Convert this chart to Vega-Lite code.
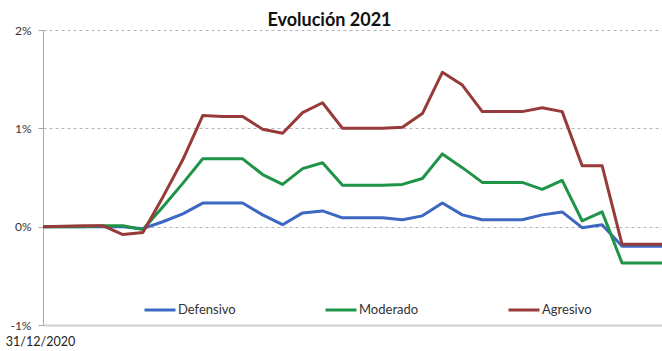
{
  "$schema": "https://vega.github.io/schema/vega-lite/v6.json",
  "width": 619,
  "height": 295,
  "autosize": {"type": "none"},
  "padding": {"left": 43, "top": 30, "right": 0, "bottom": 26},
  "background": "#ffffff",
  "title": {"text": "Evolución 2021", "font": "Lato", "fontSize": 18, "fontWeight": "bold", "color": "#111111", "anchor": "middle", "dx": -23, "offset": -6},
  "datasets": {
    "serie": [
      {"i": 0, "s": "Defensivo", "v": 0}, {"i": 1, "s": "Defensivo", "v": 0}, {"i": 2, "s": "Defensivo", "v": 0}, {"i": 3, "s": "Defensivo", "v": 0},
      {"i": 4, "s": "Defensivo", "v": 0}, {"i": 5, "s": "Defensivo", "v": -0.02}, {"i": 6, "s": "Defensivo", "v": 0.05}, {"i": 7, "s": "Defensivo", "v": 0.13},
      {"i": 8, "s": "Defensivo", "v": 0.24}, {"i": 9, "s": "Defensivo", "v": 0.24}, {"i": 10, "s": "Defensivo", "v": 0.24}, {"i": 11, "s": "Defensivo", "v": 0.12},
      {"i": 12, "s": "Defensivo", "v": 0.02}, {"i": 13, "s": "Defensivo", "v": 0.14}, {"i": 14, "s": "Defensivo", "v": 0.16}, {"i": 15, "s": "Defensivo", "v": 0.09},
      {"i": 16, "s": "Defensivo", "v": 0.09}, {"i": 17, "s": "Defensivo", "v": 0.09}, {"i": 18, "s": "Defensivo", "v": 0.07}, {"i": 19, "s": "Defensivo", "v": 0.11},
      {"i": 20, "s": "Defensivo", "v": 0.24}, {"i": 21, "s": "Defensivo", "v": 0.12}, {"i": 22, "s": "Defensivo", "v": 0.07}, {"i": 23, "s": "Defensivo", "v": 0.07},
      {"i": 24, "s": "Defensivo", "v": 0.07}, {"i": 25, "s": "Defensivo", "v": 0.12}, {"i": 26, "s": "Defensivo", "v": 0.15}, {"i": 27, "s": "Defensivo", "v": -0.01},
      {"i": 28, "s": "Defensivo", "v": 0.02}, {"i": 29, "s": "Defensivo", "v": -0.2}, {"i": 30, "s": "Defensivo", "v": -0.2}, {"i": 31, "s": "Defensivo", "v": -0.2},
      {"i": 0, "s": "Moderado", "v": 0}, {"i": 1, "s": "Moderado", "v": 0}, {"i": 2, "s": "Moderado", "v": 0}, {"i": 3, "s": "Moderado", "v": 0.01},
      {"i": 4, "s": "Moderado", "v": 0.01}, {"i": 5, "s": "Moderado", "v": -0.03}, {"i": 6, "s": "Moderado", "v": 0.2}, {"i": 7, "s": "Moderado", "v": 0.44},
      {"i": 8, "s": "Moderado", "v": 0.69}, {"i": 9, "s": "Moderado", "v": 0.69}, {"i": 10, "s": "Moderado", "v": 0.69}, {"i": 11, "s": "Moderado", "v": 0.53},
      {"i": 12, "s": "Moderado", "v": 0.43}, {"i": 13, "s": "Moderado", "v": 0.59}, {"i": 14, "s": "Moderado", "v": 0.65}, {"i": 15, "s": "Moderado", "v": 0.42},
      {"i": 16, "s": "Moderado", "v": 0.42}, {"i": 17, "s": "Moderado", "v": 0.42}, {"i": 18, "s": "Moderado", "v": 0.43}, {"i": 19, "s": "Moderado", "v": 0.49},
      {"i": 20, "s": "Moderado", "v": 0.74}, {"i": 21, "s": "Moderado", "v": 0.6}, {"i": 22, "s": "Moderado", "v": 0.45}, {"i": 23, "s": "Moderado", "v": 0.45},
      {"i": 24, "s": "Moderado", "v": 0.45}, {"i": 25, "s": "Moderado", "v": 0.38}, {"i": 26, "s": "Moderado", "v": 0.47}, {"i": 27, "s": "Moderado", "v": 0.06},
      {"i": 28, "s": "Moderado", "v": 0.15}, {"i": 29, "s": "Moderado", "v": -0.37}, {"i": 30, "s": "Moderado", "v": -0.37}, {"i": 31, "s": "Moderado", "v": -0.37},
      {"i": 0, "s": "Agresivo", "v": 0}, {"i": 1, "s": "Agresivo", "v": 0.005}, {"i": 2, "s": "Agresivo", "v": 0.01}, {"i": 3, "s": "Agresivo", "v": 0.01},
      {"i": 4, "s": "Agresivo", "v": -0.08}, {"i": 5, "s": "Agresivo", "v": -0.06}, {"i": 6, "s": "Agresivo", "v": 0.3}, {"i": 7, "s": "Agresivo", "v": 0.68},
      {"i": 8, "s": "Agresivo", "v": 1.13}, {"i": 9, "s": "Agresivo", "v": 1.12}, {"i": 10, "s": "Agresivo", "v": 1.12}, {"i": 11, "s": "Agresivo", "v": 0.99},
      {"i": 12, "s": "Agresivo", "v": 0.95}, {"i": 13, "s": "Agresivo", "v": 1.16}, {"i": 14, "s": "Agresivo", "v": 1.26}, {"i": 15, "s": "Agresivo", "v": 1.0},
      {"i": 16, "s": "Agresivo", "v": 1.0}, {"i": 17, "s": "Agresivo", "v": 1.0}, {"i": 18, "s": "Agresivo", "v": 1.01}, {"i": 19, "s": "Agresivo", "v": 1.15},
      {"i": 20, "s": "Agresivo", "v": 1.57}, {"i": 21, "s": "Agresivo", "v": 1.44}, {"i": 22, "s": "Agresivo", "v": 1.17}, {"i": 23, "s": "Agresivo", "v": 1.17},
      {"i": 24, "s": "Agresivo", "v": 1.17}, {"i": 25, "s": "Agresivo", "v": 1.21}, {"i": 26, "s": "Agresivo", "v": 1.17}, {"i": 27, "s": "Agresivo", "v": 0.62},
      {"i": 28, "s": "Agresivo", "v": 0.62}, {"i": 29, "s": "Agresivo", "v": -0.18}, {"i": 30, "s": "Agresivo", "v": -0.18}, {"i": 31, "s": "Agresivo", "v": -0.18}
    ]
  },
  "data": {"name": "serie"},
  "mark": {"type": "line", "strokeWidth": 3, "strokeJoin": "round", "clip": false},
  "encoding": {
    "x": {
      "field": "i", "type": "quantitative",
      "scale": {"domain": [0, 31], "nice": false, "zero": false},
      "axis": {
        "title": null, "values": [0], "labelExpr": "'31/12/2020'", "grid": false,
        "ticks": false, "domain": true, "domainColor": "#cfcfcf", "domainWidth": 2,
        "labelFont": "Lato", "labelFontSize": 12.5, "labelColor": "#222222",
        "labelPadding": 10, "labelOffset": -3, "labelAlign": "center"
      }
    },
    "y": {
      "field": "v", "type": "quantitative",
      "scale": {"domain": [-1, 2], "nice": false, "zero": false},
      "axis": {
        "title": null, "values": [-1, 0, 1, 2], "labelExpr": "datum.value + '%'",
        "grid": true, "gridDash": [3, 3], "gridColor": "#b5b5b5", "gridWidth": 1,
        "domainColor": "#a8a8a8", "domainWidth": 1, "tickColor": "#a8a8a8", "tickSize": 5,
        "labelFont": "Lato", "labelFontSize": 12, "labelColor": "#333333", "labelPadding": 7
      }
    },
    "color": {
      "field": "s", "type": "nominal",
      "scale": {"domain": ["Defensivo", "Moderado", "Agresivo"], "range": ["#3d68c2", "#1f9447", "#973a3a"]},
      "legend": {
        "title": null, "orient": "none", "direction": "horizontal", "legendX": 100, "legendY": 263,
        "symbolType": "stroke", "symbolSize": 961, "symbolStrokeWidth": 3,
        "labelFont": "Lato", "labelFontSize": 13, "labelColor": "#333333", "labelOffset": 1,
        "columnPadding": 83
      }
    }
  },
  "config": {"view": {"stroke": null}}
}
